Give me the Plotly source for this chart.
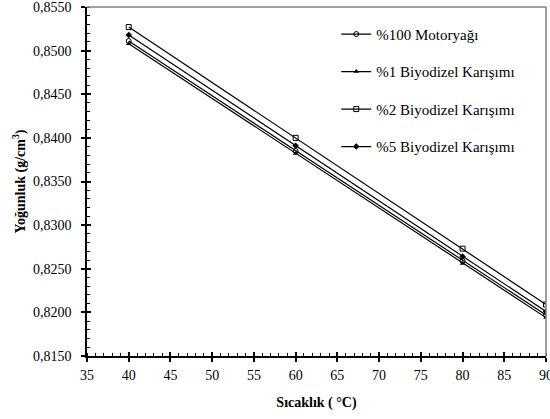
import plotly.graph_objects as go

# Temperature (°C) and density (g/cm³) for each sample
temperature = [40, 60, 80, 90]
series_names = ["%100 Motoryağı", "%1 Biyodizel Karışımı", "%2 Biyodizel Karışımı", "%5 Biyodizel Karışımı"]
density_100 = [0.8511, 0.8385, 0.8259, 0.8197]
density_1 = [0.8508, 0.8382, 0.8256, 0.8194]
density_2 = [0.8527, 0.8400, 0.8273, 0.8209]
density_5 = [0.8518, 0.8391, 0.8264, 0.8201]

x_ticks = [35, 40, 45, 50, 55, 60, 65, 70, 75, 80, 85, 90]
y_ticks = [0.8150, 0.8200, 0.8250, 0.8300, 0.8350, 0.8400, 0.8450, 0.8500, 0.8550]

markers = [
    dict(symbol="circle-open", size=5, color="black", line=dict(width=1, color="black")),
    dict(symbol="triangle-up", size=5, color="black"),
    dict(symbol="square-open", size=5, color="black", line=dict(width=1, color="black")),
    dict(symbol="diamond", size=5, color="black"),
]
values = [density_100, density_1, density_2, density_5]

FONT = "Liberation Serif"

fig = go.Figure()
for i, (name, vals, mk) in enumerate(zip(series_names, values, markers)):
    fig.add_trace(go.Scatter(
        x=temperature, y=vals, name=name, mode="lines+markers",
        line=dict(color="black", width=1.2), marker=mk,
        legendgroup=f"g{i}",
    ))

axis_common = dict(
    showgrid=False, zeroline=False, showline=True, linecolor="black", linewidth=1.5,
    ticks="outside", ticklen=4, tickwidth=1.5, tickcolor="black",
    tickfont=dict(family=FONT, size=14, color="black"),
    ticklabeloverflow="allow", automargin=False,
)

fig.update_layout(
    width=550, height=419,
    margin=dict(l=87, r=4, t=7, b=63),
    paper_bgcolor="white", plot_bgcolor="white",
    separators=",.",
    font=dict(family=FONT, color="black"),
    showlegend=True,
    legend=dict(
        x=0.543, y=0.969, xanchor="left", yanchor="top",
        font=dict(family=FONT, size=15, color="black"),
        bgcolor="rgba(0,0,0,0)", tracegroupgap=15, itemwidth=30,
    ),
    xaxis=dict(
        range=[35, 90], tickvals=x_ticks, **axis_common, ticklabelstandoff=1,
        minor=dict(dtick=1, ticks="inside", ticklen=3, tickcolor="black", tickwidth=1),
        title=dict(text="<b>Sıcaklık ( °C)</b>", font=dict(family=FONT, size=14, color="black"), standoff=16),
    ),
    yaxis=dict(
        range=[0.8150, 0.8550], tickvals=y_ticks, tickformat=".4f", **axis_common, ticklabelstandoff=7,
        minor=dict(dtick=0.001, ticks="inside", ticklen=3, tickcolor="black", tickwidth=1),
        title=dict(text="<b>Yoğunluk (g/cm<sup>3</sup>)</b>", font=dict(family=FONT, size=14, color="black"), standoff=4),
    ),
    # overlay axes give the major ticks their inner half so they cross the axis lines
    xaxis2=dict(overlaying="x", matches="x", anchor="y", range=[35, 90], tickvals=x_ticks,
                ticks="inside", ticklen=4, tickwidth=1.5, tickcolor="black",
                showticklabels=False, showgrid=False, zeroline=False, showline=False),
    yaxis2=dict(overlaying="y", matches="y", anchor="x", range=[0.8150, 0.8550], tickvals=y_ticks,
                ticks="inside", ticklen=4, tickwidth=1.5, tickcolor="black",
                showticklabels=False, showgrid=False, zeroline=False, showline=False),
)

# invisible trace so the overlay axes are drawn
fig.add_trace(go.Scatter(x=[temperature[0]], y=[density_1[0]], xaxis="x2", yaxis="y2",
                         mode="markers", marker=dict(opacity=0), showlegend=False, hoverinfo="skip"))

# gray frame on the top and right of the plotting area
fig.add_shape(type="line", xref="x domain", yref="y domain", x0=0, x1=1, y0=1, y1=1,
              line=dict(color="#808080", width=1.5))
fig.add_shape(type="line", xref="x domain", yref="y domain", x0=1, x1=1, y0=0, y1=1,
              line=dict(color="#808080", width=1.5))

fig.write_html("out.html")
